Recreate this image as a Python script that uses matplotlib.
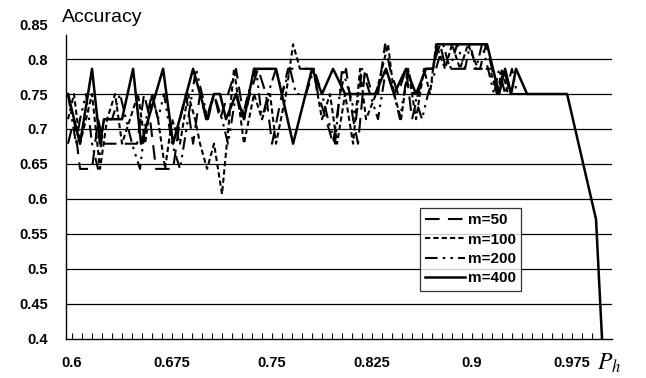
import numpy as np
import matplotlib
matplotlib.use('Agg')
import matplotlib.pyplot as plt
from matplotlib.ticker import FixedLocator

plt.rcParams['font.family'] = 'Liberation Sans'
plt.rcParams['mathtext.fontset'] = 'stix'

# Ph values (x) and accuracy (y) for each m
x_m50 = [0.597, 0.6015, 0.606, 0.6075, 0.615, 0.6195, 0.624, 0.6285, 0.6488, 0.654, 0.6585,
         0.663, 0.6683, 0.6758, 0.681, 0.6855, 0.6908, 0.696, 0.7005, 0.7065, 0.711, 0.717,
         0.723, 0.729, 0.7335, 0.7395, 0.7455, 0.75, 0.7575, 0.762, 0.7733, 0.7808, 0.7845,
         0.7905, 0.7958, 0.801, 0.8055, 0.8108, 0.8145, 0.8198, 0.825, 0.8295, 0.8348, 0.8385,
         0.8445, 0.8505, 0.855, 0.8595, 0.8648, 0.87, 0.876, 0.8805, 0.8873, 0.906, 0.9105,
         0.915, 0.9188, 0.924, 0.9285, 0.9398]
y_m50 = [0.679, 0.714, 0.643, 0.643, 0.643, 0.714, 0.679, 0.679, 0.679, 0.75, 0.714,
         0.643, 0.643, 0.643, 0.714, 0.75, 0.679, 0.75, 0.714, 0.75, 0.714, 0.75,
         0.786, 0.714, 0.75, 0.786, 0.75, 0.679, 0.75, 0.786, 0.786, 0.786, 0.75,
         0.714, 0.679, 0.75, 0.786, 0.714, 0.679, 0.786, 0.75, 0.75, 0.821, 0.786,
         0.75, 0.786, 0.714, 0.75, 0.786, 0.786, 0.821, 0.786, 0.786, 0.786, 0.821,
         0.786, 0.75, 0.786, 0.75, 0.75]

x_m100 = [0.597, 0.6015, 0.606, 0.6105, 0.615, 0.621, 0.6263, 0.6323, 0.6375, 0.6435, 0.6495,
          0.6548, 0.66, 0.6645, 0.6698, 0.675, 0.681, 0.687, 0.6923, 0.696, 0.7013, 0.7065,
          0.7125, 0.7215, 0.729, 0.7365, 0.7425, 0.7485, 0.753, 0.7605, 0.7658, 0.771, 0.7808,
          0.7875, 0.7935, 0.7988, 0.8048, 0.8108, 0.816, 0.8205, 0.828, 0.8325, 0.837, 0.8415,
          0.8468, 0.852, 0.858, 0.864, 0.8685, 0.873, 0.8798, 0.885, 0.891, 0.897, 0.9045,
          0.9135, 0.9188, 0.9225, 0.927, 0.936]
y_m100 = [0.714, 0.75, 0.679, 0.714, 0.75, 0.643, 0.714, 0.75, 0.679, 0.714, 0.75,
          0.679, 0.75, 0.714, 0.643, 0.714, 0.679, 0.75, 0.714, 0.679, 0.643, 0.679,
          0.607, 0.786, 0.679, 0.75, 0.714, 0.75, 0.679, 0.75, 0.821, 0.786, 0.786,
          0.714, 0.75, 0.679, 0.75, 0.679, 0.786, 0.714, 0.75, 0.786, 0.821, 0.75,
          0.714, 0.786, 0.714, 0.786, 0.75, 0.821, 0.786, 0.821, 0.786, 0.821, 0.786,
          0.786, 0.75, 0.786, 0.75, 0.75]

x_m200 = [0.597, 0.6, 0.603, 0.606, 0.6105, 0.615, 0.6195, 0.624, 0.63, 0.636, 0.6405,
          0.645, 0.651, 0.6555, 0.66, 0.6645, 0.669, 0.675, 0.681, 0.687, 0.693, 0.6975,
          0.702, 0.7065, 0.7125, 0.717, 0.723, 0.7275, 0.732, 0.738, 0.7425, 0.747, 0.753,
          0.7575, 0.7635, 0.768, 0.7755, 0.7815, 0.7875, 0.792, 0.7973, 0.8025, 0.8085, 0.813,
          0.8175, 0.8235, 0.8295, 0.8355, 0.8415, 0.846, 0.852, 0.8565, 0.8625, 0.867, 0.873,
          0.8783, 0.8835, 0.8888, 0.8948, 0.8985, 0.903, 0.9075, 0.912, 0.9165, 0.9203, 0.9248,
          0.93, 0.9338, 0.942]
y_m200 = [0.75, 0.714, 0.679, 0.714, 0.75, 0.679, 0.643, 0.714, 0.714, 0.75, 0.714,
          0.679, 0.643, 0.714, 0.75, 0.714, 0.75, 0.679, 0.643, 0.714, 0.786, 0.75,
          0.714, 0.75, 0.714, 0.679, 0.75, 0.714, 0.75, 0.786, 0.714, 0.75, 0.786,
          0.75, 0.786, 0.75, 0.75, 0.786, 0.75, 0.714, 0.679, 0.786, 0.75, 0.714,
          0.786, 0.75, 0.714, 0.786, 0.75, 0.714, 0.786, 0.75, 0.714, 0.75, 0.786,
          0.821, 0.786, 0.821, 0.786, 0.821, 0.786, 0.821, 0.786, 0.75, 0.786, 0.75,
          0.786, 0.75, 0.75]

x_m400 = [0.597, 0.606, 0.615, 0.621, 0.624, 0.6375, 0.6458, 0.6518, 0.6683, 0.6758, 0.6908,
          0.7013, 0.7065, 0.711, 0.7155, 0.723, 0.729, 0.7365, 0.753, 0.7658, 0.78, 0.7875,
          0.7958, 0.8048, 0.8273, 0.8355, 0.8415, 0.8505, 0.858, 0.8655, 0.8708, 0.8738, 0.9113,
          0.9203, 0.9248, 0.9293, 0.933, 0.9413, 0.9713, 0.993, 0.9975]
y_m400 = [0.75, 0.679, 0.786, 0.679, 0.714, 0.714, 0.786, 0.679, 0.786, 0.679, 0.786,
          0.714, 0.75, 0.75, 0.714, 0.75, 0.714, 0.786, 0.786, 0.679, 0.786, 0.75,
          0.786, 0.75, 0.75, 0.786, 0.75, 0.786, 0.75, 0.786, 0.786, 0.821, 0.821,
          0.75, 0.786, 0.75, 0.786, 0.75, 0.75, 0.571, 0.4]

x_labels = [0.6, 0.675, 0.75, 0.825, 0.9, 0.975]
y_ticks = [0.4, 0.45, 0.5, 0.55, 0.6, 0.65, 0.7, 0.75, 0.8, 0.85]

fig = plt.figure(figsize=(6.46, 3.78), dpi=100)
ax = fig.add_axes([0.1022, 0.1032, 0.8452, 0.8333])

# horizontal grid lines (no line at 0.85)
for g in y_ticks[1:-1]:
    ax.axhline(g, color='black', lw=0.9, zorder=1)

ax.plot(x_m50, y_m50, color='black', lw=1.5, dashes=(7, 4), label='m=50', zorder=3)
ax.plot(x_m100, y_m100, color='black', lw=1.5, dashes=(2.5, 1.5), label='m=100', zorder=3)
ax.plot(x_m200, y_m200, color='black', lw=1.5, dashes=(6, 2.5, 1.2, 2.5, 1.2, 2.5),
        label='m=200', zorder=3)
ax.plot(x_m400, y_m400, color='black', lw=1.8, label='m=400', zorder=4)

ax.set_xlim(0.5955, 1.005)
ax.set_ylim(0.4, 0.85)

for s in ['top', 'right']:
    ax.spines[s].set_visible(False)
ax.spines['left'].set_bounds(0.4, 0.835)
ax.spines['left'].set_linewidth(1.0)
ax.spines['bottom'].set_linewidth(1.0)

ax.xaxis.set_major_locator(FixedLocator(x_labels))
ax.xaxis.set_minor_locator(FixedLocator(np.arange(0.6, 1.004, 0.0075)))
ax.set_xticklabels([f'{v:g}' for v in x_labels])
ax.tick_params(axis='x', which='both', direction='in', length=4, width=0.8, pad=12,
               labelsize=10.5)
ax.set_yticks(y_ticks)
ax.set_yticklabels([f'{v:g}' for v in y_ticks])
ax.tick_params(axis='y', length=0, pad=13, labelsize=10.5)
for lab in ax.get_xticklabels() + ax.get_yticklabels():
    lab.set_fontweight('bold')

ax.text(-0.008, 1.02, 'Accuracy', transform=ax.transAxes, fontsize=14,
        ha='left', va='center')
ax.text(0.972, -0.076, '$P_h$', transform=ax.transAxes, fontsize=17,
        ha='left', va='center')

leg = ax.legend(loc='upper left', bbox_to_anchor=(0.648, 0.416),
                prop={'weight': 'bold', 'size': 11}, handlelength=2.6,
                handletextpad=0.2, labelspacing=0.35, borderpad=0.35,
                frameon=True, fancybox=False, borderaxespad=0)
leg.get_frame().set_edgecolor('black')
leg.get_frame().set_linewidth(0.9)

fig.savefig('out.png', dpi=100)
